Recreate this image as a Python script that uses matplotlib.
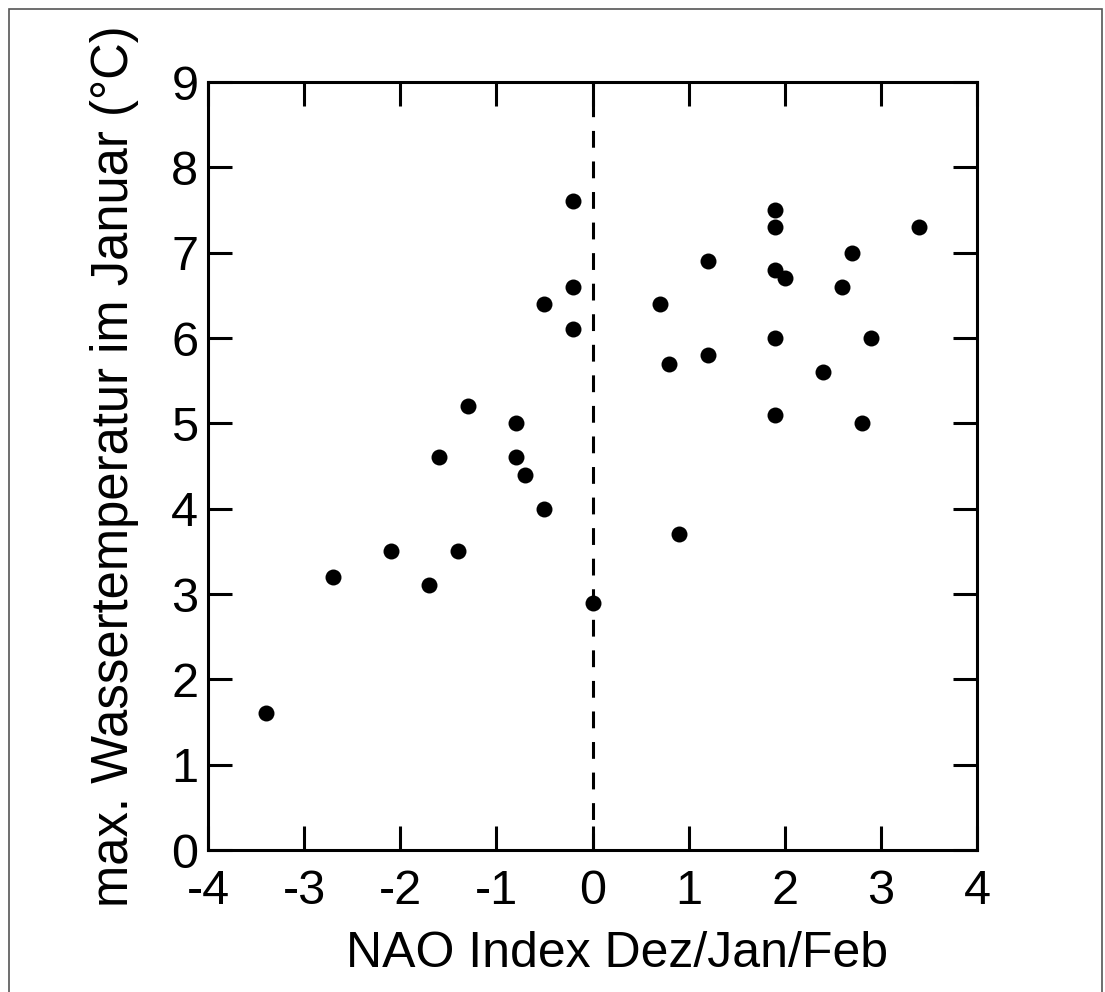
#!/usr/bin/env python3
"""Scatter: max. January water temperature vs. winter NAO index."""

import matplotlib
matplotlib.use("Agg")
import matplotlib.pyplot as plt
from matplotlib.patches import Rectangle

# ── data ────────────────────────────────────────────────────────────────────
nao = [-3.4, -2.7, -2.1, -1.7, -1.6, -1.4, -1.3, -0.8, -0.8, -0.7,
       -0.5, -0.5, -0.2, -0.2, -0.2, 0.0, 0.7, 0.8, 0.9, 1.2,
       1.2, 1.9, 1.9, 1.9, 2.0, 1.9, 1.9, 2.4, 2.6, 2.7,
       2.8, 2.9, 3.4]
temp = [1.6, 3.2, 3.5, 3.1, 4.6, 3.5, 5.2, 5.0, 4.6, 4.4,
        4.0, 6.4, 7.6, 6.6, 6.1, 2.9, 6.4, 5.7, 3.7, 6.9,
        5.8, 7.5, 7.3, 6.8, 6.7, 6.0, 5.1, 5.6, 6.6, 7.0,
        5.0, 6.0, 7.3]

x_ticks = [-4, -3, -2, -1, 0, 1, 2, 3, 4]
y_ticks = list(range(0, 10))

plt.rcParams["font.family"] = ["Liberation Sans", "DejaVu Sans"]

fig = plt.figure(figsize=(11.05, 9.92), dpi=100)
ax = fig.add_axes([208 / 1105, 1 - 850 / 992, (977 - 208) / 1105, (850 - 82) / 992])

ax.scatter(nao, temp, s=11.5 ** 2, color="black", zorder=3, linewidths=0)
ax.axvline(0, color="black", linewidth=2.2, linestyle=(0, (5.5, 4.5)), zorder=2)

ax.set_xlim(-4, 4)
ax.set_ylim(0, 9)
ax.set_xticks(x_ticks)
ax.set_yticks(y_ticks)
ax.set_xticklabels([f"{v}" for v in x_ticks])
ax.set_yticklabels([f"{v}" for v in y_ticks])

for s in ax.spines.values():
    s.set_linewidth(2.2)
ax.tick_params(direction="in", length=17, width=2.2, labelsize=35,
               top=True, right=True)
ax.tick_params(axis="x", pad=14)
ax.tick_params(axis="y", pad=7)

ax.set_xlabel("NAO Index Dez/Jan/Feb", fontsize=36)
ax.xaxis.set_label_coords(0.532, -0.105)
ax.set_ylabel("max. Wassertemperatur im Januar (°C)", fontsize=36.5)
ax.yaxis.set_label_coords(-0.09, 0.5)

# thin gray frame around the whole picture
fig.patches.append(Rectangle((9 / 1105, -0.05), (1102 - 9) / 1105, 1.05 - 9 / 992,
                             transform=fig.transFigure, fill=False,
                             edgecolor="#555555", linewidth=1.2))

fig.savefig("out.png", dpi=100)
